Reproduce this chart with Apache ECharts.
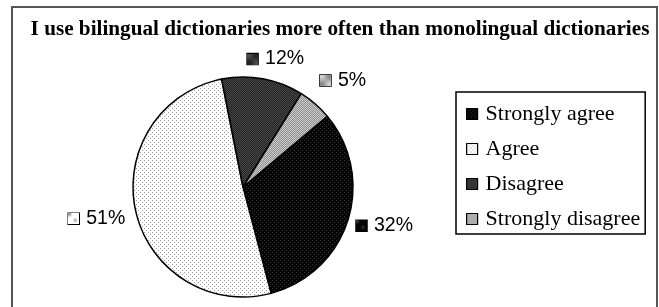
<!DOCTYPE html>
<html>
<head>
<meta charset="utf-8">
<script src="https://cdn.jsdelivr.net/npm/echarts@6/dist/echarts.min.js"></script>
<style>
  html, body { margin: 0; padding: 0; background: #fff; }
  #chart { width: 659px; height: 307px; }
</style>
</head>
<body>
<div id="chart"></div>
<script>
// data
const titleText = 'I use bilingual dictionaries more often than monolingual dictionaries'
const categories = ['Strongly agree', 'Agree', 'Disagree', 'Strongly disagree']
const percents = [32, 51, 12, 5]

// small tiled fills that mimic the print patterns
const makePattern = (bg, fg, size, dots) => {
  const c = document.createElement('canvas')
  c.width = size
  c.height = size
  const ctx = c.getContext('2d')
  ctx.fillStyle = bg
  ctx.fillRect(0, 0, size, size)
  ctx.fillStyle = fg
  dots.forEach(([x, y]) => ctx.fillRect(x, y, 1, 1))
  return { image: c, repeat: 'repeat' }
}

const fills = [
  makePattern('#050505', '#3a3a3a', 4, [[0, 0], [2, 2]]),
  makePattern('#ffffff', '#9a9a9a', 4, [[0, 0], [2, 2]]),
  makePattern('#202020', '#4a4a4a', 2, [[0, 0], [1, 1]]),
  makePattern('#8c8c8c', '#cfcfcf', 2, [[0, 0], [1, 1]])
]
// rough label nudges so they sit where the original put them
const labelShift = [[-14, 0], [12, 3], [-24, -2], [-12, -10]]

const chart = echarts.init(document.getElementById('chart'), null, { renderer: 'canvas' })

const pieData = categories.map((name, i) => ({
  name,
  value: percents[i],
  itemStyle: { color: fills[i] },
  label: {
    rich: {
      sw: {
        width: 11,
        height: 11,
        backgroundColor: fills[i],
        borderColor: '#000',
        borderWidth: 1.5
      },
      t: {
        fontFamily: 'Liberation Sans',
        fontSize: 19.5,
        color: '#000',
        padding: [0, 0, 0, 7]
      }
    }
  }
}))

chart.setOption({
  animation: false,
  backgroundColor: '#fff',
  title: {
    text: titleText,
    left: 335,
    textAlign: 'center',
    top: 14,
    textStyle: {
      fontFamily: 'Liberation Serif',
      fontWeight: 'bold',
      fontSize: 21.2,
      color: '#000'
    }
  },
  graphic: [{
    type: 'rect',
    shape: { x: 12, y: 7, width: 645, height: 320 },
    style: { fill: 'none', stroke: '#555', lineWidth: 2 },
    silent: true
  }],
  legend: {
    orient: 'vertical',
    left: 456,
    top: 92,
    data: categories,
    icon: 'rect',
    itemWidth: 11,
    itemHeight: 11,
    itemGap: 13,
    padding: [11, 5, 4, 10],
    borderColor: '#000',
    borderWidth: 1.5,
    textStyle: {
      fontFamily: 'Liberation Serif',
      fontSize: 22,
      lineHeight: 22,
      color: '#000',
      padding: [0, 0, 0, 3]
    },
    itemStyle: { borderColor: '#000', borderWidth: 1.2 }
  },
  series: [{
    type: 'pie',
    center: [243, 187],
    radius: 110,
    startAngle: 40,
    clockwise: true,
    avoidLabelOverlap: false,
    data: pieData,
    itemStyle: { borderColor: '#000', borderWidth: 1.5 },
    label: {
      show: true,
      position: 'outside',
      formatter: (p) => '{sw|}{t|' + p.value + '%}',
      fontFamily: 'Liberation Sans',
      fontSize: 19.5,
      color: '#000'
    },
    labelLine: { show: false, length: 18, length2: 0 },
    labelLayout: (p) => ({ dx: labelShift[p.dataIndex][0], dy: labelShift[p.dataIndex][1] })
  }]
})
</script>
</body>
</html>
